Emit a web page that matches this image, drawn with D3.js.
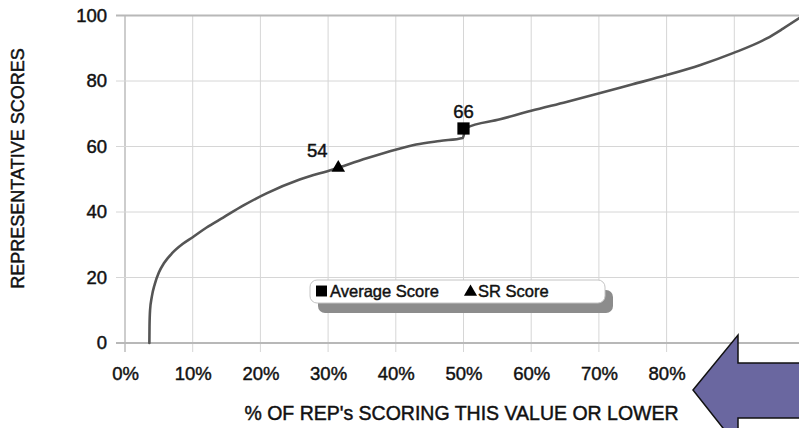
<!DOCTYPE html>
<html>
<head>
<meta charset="utf-8">
<script src="https://cdn.jsdelivr.net/npm/d3@7/dist/d3.min.js"></script>
<style>
  html, body { margin: 0; padding: 0; background: #fff; }
  svg { display: block; }
  text { font-family: "Liberation Sans", Arial, Helvetica, sans-serif; fill: #111; stroke: #111; stroke-width: 0.45px; }
</style>
</head>
<body>
<svg id="chart" width="799" height="428"></svg>
<script>
// ---- data ----
const curvePct   = [3.6, 3.62, 3.7, 3.95, 4.4, 5.0, 5.8, 7.0, 8.5, 10.0, 12.0, 14.5, 17.5, 20.9, 25.8, 30.7, 35.7, 40.1, 43.0, 46.5, 49.9, 50.3, 55.4, 60.0, 65.2, 70.2, 75.0, 80.0, 85.0, 89.8, 94.8, 97.2, 99.6];
const curveScore = [0, 5, 10, 14, 18, 21.5, 24.5, 27.5, 30.2, 32.3, 35.2, 38.3, 42, 45.7, 49.9, 53, 56.4, 59.1, 60.6, 61.7, 62.6, 65.6, 68.3, 70.9, 73.6, 76.3, 79, 81.8, 84.9, 88.5, 93, 96, 99.2];

const markerNames  = ["Average Score", "SR Score"];
const markerPct    = [50, 31.5];
const markerScore  = [65.5, 53.5];
const markerLabels = ["66", "54"];
const markerShapes = ["square", "triangle"];

const xTicks = [0, 10, 20, 30, 40, 50, 60, 70, 80];
const xGrid  = [0, 10, 20, 30, 40, 50, 60, 70, 80, 90, 100];
const yTicks = [0, 20, 40, 60, 80, 100];

const xTitle = "% OF REP's SCORING THIS VALUE OR LOWER";
const yTitle = "REPRESENTATIVE SCORES";

// ---- layout ----
const svg = d3.select("#chart");
const x = d3.scaleLinear().domain([0, 100]).range([125, 802]);
const y = d3.scaleLinear().domain([0, 100]).range([343, 15.5]);

// grid (vertical) with tick extension below axis
const g = svg.append("g");
g.selectAll("line.vg").data(xGrid).join("line")
  .attr("class", "vg")
  .attr("x1", d => x(d)).attr("x2", d => x(d))
  .attr("y1", y(100)).attr("y2", y(0) + 9)
  .attr("stroke", d => d === 0 ? "#bdbdbd" : "#d6d6d6")
  .attr("stroke-width", d => d === 0 ? 1.5 : 1);

// grid (horizontal) with tick extension to the left
g.selectAll("line.hg").data(yTicks).join("line")
  .attr("class", "hg")
  .attr("x1", x(0) - 9).attr("x2", 799)
  .attr("y1", d => y(d)).attr("y2", d => y(d))
  .attr("stroke", d => (d === 0 || d === 100) ? "#b8b8b8" : "#d6d6d6")
  .attr("stroke-width", d => (d === 0 || d === 100) ? 2 : 1);

// axis tick labels
const xAxis = d3.axisBottom(x).tickValues(xTicks).tickFormat(d => d + "%").tickSize(0).tickPadding(0);
const xa = svg.append("g").attr("transform", `translate(0,${y(0) + 24})`).call(xAxis);
xa.select(".domain").remove();
xa.selectAll("text").attr("font-size", 18.5).attr("fill", "#111").attr("dy", "0.71em").attr("y", 0)
  .style("font-family", "'Liberation Sans', Arial, sans-serif");

const yAxis = d3.axisLeft(y).tickValues(yTicks).tickFormat(d3.format("d")).tickSize(0).tickPadding(0);
const ya = svg.append("g").attr("transform", `translate(${x(0) - 18},0)`).call(yAxis);
ya.select(".domain").remove();
ya.selectAll("text").attr("font-size", 18.5).attr("fill", "#111")
  .style("font-family", "'Liberation Sans', Arial, sans-serif");

// axis titles
svg.append("text").text(xTitle)
  .attr("x", 461.5).attr("y", 420)
  .attr("text-anchor", "middle").attr("font-size", 19.5);
svg.append("text").text(yTitle)
  .attr("transform", "translate(24,168.5) rotate(-90)")
  .attr("text-anchor", "middle").attr("font-size", 18);

// curve
const pts = curvePct.map((p, i) => [p, curveScore[i]]);
const line = d3.line().x(d => x(d[0])).y(d => y(d[1])).curve(d3.curveMonotoneX);
svg.append("path").datum(pts)
  .attr("d", line)
  .attr("fill", "none")
  .attr("stroke", "#555")
  .attr("stroke-width", 2.6)
  .attr("stroke-linecap", "round");

// markers
const tri = d3.symbol().type(d3.symbolTriangle).size(80);
const sq = d3.symbol().type(d3.symbolSquare).size(150);
markerPct.forEach((p, i) => {
  const cx = x(p), cy = y(markerScore[i]);
  svg.append("path")
    .attr("d", markerShapes[i] === "square" ? sq() : tri())
    .attr("transform", `translate(${cx},${cy})`)
    .attr("fill", "#000");
});
// value labels
svg.append("text").text(markerLabels[0])
  .attr("x", x(markerPct[0])).attr("y", y(markerScore[0]) - 10)
  .attr("text-anchor", "middle").attr("font-size", 18.5);
svg.append("text").text(markerLabels[1])
  .attr("x", x(markerPct[1]) - 21).attr("y", y(markerScore[1]) - 11)
  .attr("text-anchor", "middle").attr("font-size", 18.5);

// legend
const lg = svg.append("g");
lg.append("rect").attr("x", 318).attr("y", 290).attr("width", 295).attr("height", 23)
  .attr("rx", 7).attr("fill", "#8c8c8c");
lg.append("rect").attr("x", 310).attr("y", 280).attr("width", 295).attr("height", 23)
  .attr("rx", 7).attr("fill", "#fff").attr("stroke", "#c4c4c4").attr("stroke-width", 1);
lg.append("path").attr("d", d3.symbol().type(d3.symbolSquare).size(120)())
  .attr("transform", "translate(321.5,291)").attr("fill", "#000");
lg.append("text").text(markerNames[0]).attr("x", 330).attr("y", 297).attr("font-size", 16.5);
lg.append("path").attr("d", d3.symbol().type(d3.symbolTriangle).size(75)())
  .attr("transform", "translate(470.5,292)").attr("fill", "#000");
lg.append("text").text(markerNames[1]).attr("x", 478).attr("y", 297).attr("font-size", 16.5);

// annotation arrow
const arrow = [[693, 390], [738, 335], [738, 363], [805, 363], [805, 418], [738, 418], [738, 447]];
svg.append("path")
  .attr("d", d3.line()(arrow) + "Z")
  .attr("fill", "#6a67a0")
  .attr("stroke", "#111")
  .attr("stroke-width", 1.5)
  .attr("stroke-linejoin", "miter");
</script>
</body>
</html>
